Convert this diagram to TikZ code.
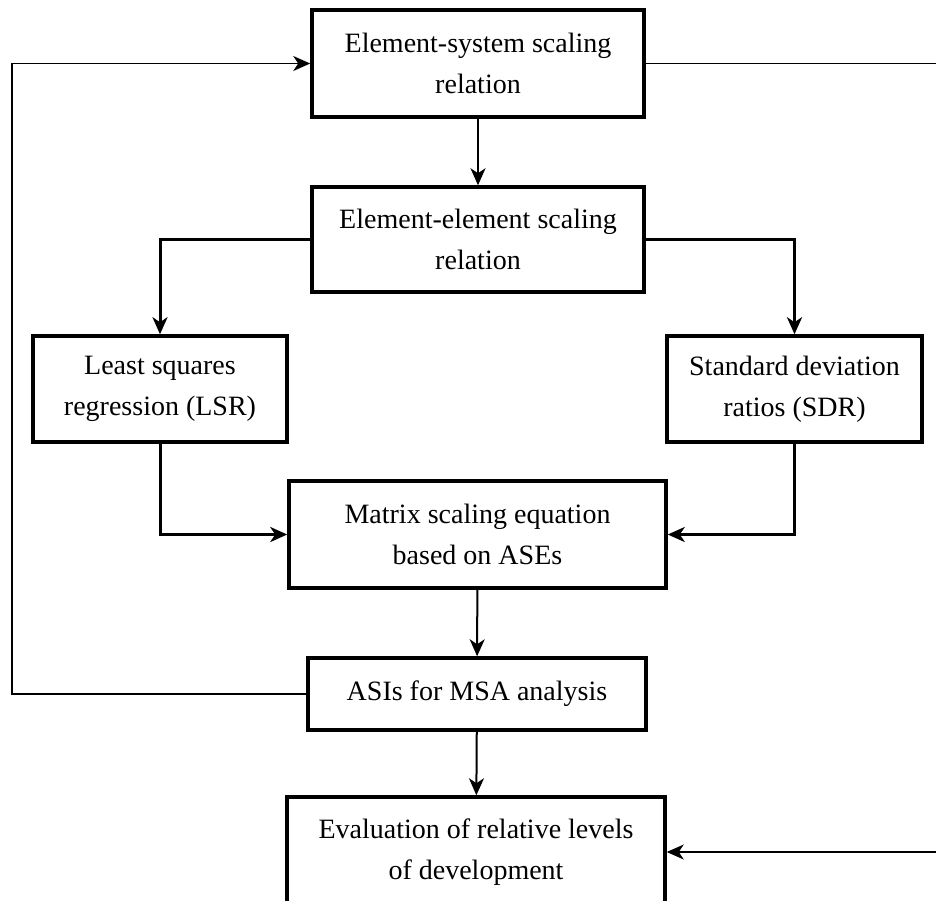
\documentclass[tikz,border=0pt]{standalone}
\usepackage{fontspec}
\setmainfont{Liberation Serif}
\usetikzlibrary{arrows.meta, calc}
\tikzset{
  %% Styles %%
  stepbox/.style = {
    draw, line width=3.5pt, fill=white, inner sep=0pt, align=center,
    minimum width=#1, font={\fontsize{28}{41}\selectfont},
  },
  flow/.style = {
    line width=#1, -{Stealth[length=17pt, width=15pt, inset=5pt]},
  },
  loopline/.style = {
    line width=1.6pt, #1,
  },
}

\begin{document}
\begin{tikzpicture}[x=1pt, y=-1pt]
            \useasboundingbox (0,0) rectangle (936,900);
            % Boxes
            \node[stepbox=332pt, minimum height=107pt] (es) at (478,63.5) {Element-system scaling\\relation};
            \node[stepbox=332pt, minimum height=105pt] (ee) at (478,239.5) {Element-element scaling\\relation};
            \node[stepbox=254pt, minimum height=106pt] (lsr) at (160,389) {Least squares\\regression (LSR)};
            \node[stepbox=255pt, minimum height=106pt] (sdr) at (794.5,389) {Standard deviation\\ratios (SDR)};
            \node[stepbox=377pt, minimum height=107pt] (mse) at (477.5,534.5) {Matrix scaling equation\\based on ASEs};
            \node[stepbox=338pt, minimum height=72pt] (asi) at (477,694) {ASIs for MSA analysis};
            \node[stepbox=378pt, minimum height=110pt] (eva) at (476,852) {Evaluation of relative levels\\of development};
            % Main flow
            \draw[flow=2pt] (es) -- (ee);
            \draw[flow=3pt] (ee.west) -| (lsr.north);
            \draw[flow=3pt] (ee.east) -| (sdr.north);
            \draw[flow=3pt] (lsr.south) |- (mse.west);
            \draw[flow=3pt] (sdr.south) |- (mse.east);
            \draw[flow=2pt] (mse) -- (asi);
            \draw[flow=2pt] (asi) -- (eva);
            % Feedback loops
            \coordinate (loopL) at (12,694);
            \coordinate (loopR) at (960,63.5);
            \draw[loopline={flow=1.6pt}] (asi.west) -- (loopL) |- (es.west);
            \draw[loopline={flow=1.6pt}] (es.east) -- (loopR) |- (eva.east);
        \end{tikzpicture}
\end{document}
